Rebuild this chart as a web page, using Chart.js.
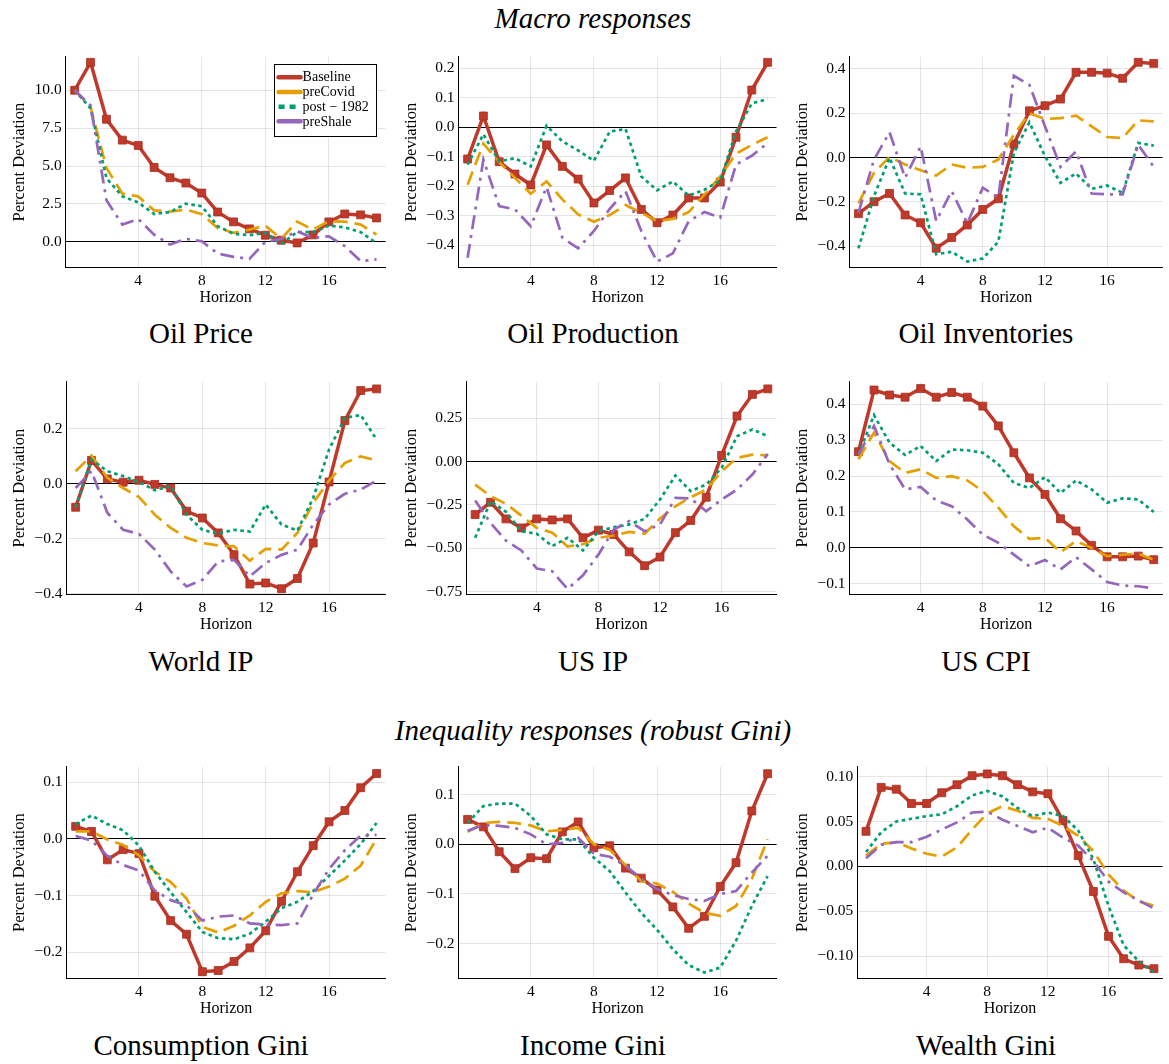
<!DOCTYPE html>
<html>
<head>
<meta charset="utf-8">
<script src="https://cdn.jsdelivr.net/npm/chart.js@4.4.1/dist/chart.umd.min.js"></script>
<style>
  body { margin: 0; background: #fff; width: 1169px; height: 1064px; position: relative; overflow: hidden;
         font-family: "Liberation Serif", serif; color: #000; }
  canvas { position: absolute; }
  .sup { position: absolute; font-style: italic; font-size: 29px; transform: translate(-50%, -50%); white-space: nowrap; }
  .ttl { position: absolute; font-size: 29px; transform: translate(-50%, -50%); white-space: nowrap; }
</style>
</head>
<body>
<div class="sup" style="left:593px;top:18px">Macro responses</div>
<div class="sup" style="left:593px;top:730px">Inequality responses (robust Gini)</div>

<script>
// horizon (x axis)
var horizon = [0, 1, 2, 3, 4, 5, 6, 7, 8, 9, 10, 11, 12, 13, 14, 15, 16, 17, 18, 19];
var xTicks = [4, 8, 12, 16];
var seriesLabels = ["Baseline", "preCovid", "post \u2212 1982", "preShale"];

// Oil Price
var opBase     = [10.0, 11.84, 8.09, 6.71, 6.36, 4.91, 4.23, 3.88, 3.22, 1.97, 1.32, 0.86, 0.44, 0.11, -0.07, 0.46, 1.32, 1.84, 1.78, 1.58];
var opPreCovid = [10.0, 8.9, 4.87, 3.18, 3.0, 2.08, 2.0, 2.13, 1.82, 0.92, 0.59, 0.81, 1.07, 0.2, 1.34, 0.81, 1.36, 1.34, 1.14, 0.48];
var opPost1982 = [10.0, 8.8, 4.2, 3.0, 2.6, 1.84, 1.97, 2.52, 2.35, 1.03, 0.53, 0.44, 0.59, -0.13, 0.64, 0.64, 1.07, 0.96, 0.64, -0.07];
var opPreShale = [10.0, 9.0, 2.74, 1.14, 1.51, 0.48, -0.18, 0.2, 0.04, -0.77, -0.99, -1.12, 0.0, 0.2, 0.7, 0.26, 0.37, -0.28, -1.27, -1.16];

// Oil Production
var prBase     = [-0.108, 0.038, -0.117, -0.159, -0.196, -0.06, -0.133, -0.176, -0.257, -0.215, -0.172, -0.279, -0.324, -0.298, -0.24, -0.24, -0.186, -0.034, 0.126, 0.22];
var prPreCovid = [-0.195, -0.056, -0.118, -0.172, -0.226, -0.184, -0.245, -0.296, -0.321, -0.298, -0.264, -0.29, -0.319, -0.311, -0.288, -0.229, -0.167, -0.09, -0.06, -0.034];
var prPost1982 = [-0.127, -0.024, -0.116, -0.105, -0.133, 0.005, -0.048, -0.079, -0.114, -0.015, -0.006, -0.167, -0.214, -0.184, -0.232, -0.212, -0.181, -0.015, 0.081, 0.095];
var prPreShale = [-0.443, -0.11, -0.268, -0.279, -0.336, -0.203, -0.375, -0.411, -0.352, -0.277, -0.217, -0.352, -0.456, -0.428, -0.319, -0.288, -0.307, -0.127, -0.097, -0.054];

// Oil Inventories
var invBase     = [-0.253, -0.199, -0.162, -0.259, -0.294, -0.409, -0.361, -0.304, -0.234, -0.186, 0.061, 0.211, 0.234, 0.264, 0.385, 0.385, 0.381, 0.358, 0.43, 0.425];
var invPreCovid = [-0.207, -0.069, 0.003, -0.031, -0.057, -0.081, -0.031, -0.046, -0.042, -0.009, 0.103, 0.2, 0.174, 0.178, 0.189, 0.141, 0.093, 0.088, 0.168, 0.163];
var invPost1982 = [-0.41, -0.174, -0.001, -0.162, -0.166, -0.436, -0.425, -0.469, -0.455, -0.38, 0.021, 0.159, 0.006, -0.114, -0.072, -0.141, -0.126, -0.159, 0.066, 0.054];
var invPreShale = [-0.249, -0.009, 0.114, -0.091, 0.051, -0.286, -0.151, -0.297, -0.136, -0.181, 0.369, 0.328, 0.141, -0.042, 0.028, -0.162, -0.166, -0.166, 0.058, -0.042];

// World IP
var wipBase     = [-0.085, 0.085, 0.018, 0.006, 0.013, -0.002, -0.015, -0.099, -0.124, -0.178, -0.257, -0.364, -0.36, -0.381, -0.344, -0.215, 0.007, 0.23, 0.339, 0.345];
var wipPreCovid = [0.046, 0.103, 0.022, -0.015, -0.048, -0.112, -0.16, -0.196, -0.215, -0.224, -0.227, -0.279, -0.236, -0.239, -0.178, -0.069, 0.012, 0.076, 0.1, 0.085];
var wipPost1982 = [-0.085, 0.088, 0.046, 0.028, 0.007, -0.023, -0.008, -0.112, -0.167, -0.181, -0.167, -0.173, -0.075, -0.148, -0.17, -0.051, 0.125, 0.24, 0.25, 0.161];
var wipPreShale = [-0.015, 0.046, -0.105, -0.167, -0.182, -0.239, -0.318, -0.373, -0.349, -0.282, -0.276, -0.336, -0.288, -0.258, -0.239, -0.148, -0.075, -0.036, -0.021, 0.012];

// US IP
var usipBase     = [-0.306, -0.235, -0.331, -0.383, -0.331, -0.337, -0.331, -0.44, -0.396, -0.421, -0.521, -0.601, -0.551, -0.41, -0.34, -0.206, 0.035, 0.262, 0.387, 0.419];
var usipPreCovid = [-0.133, -0.2, -0.244, -0.312, -0.383, -0.41, -0.49, -0.477, -0.44, -0.427, -0.406, -0.417, -0.329, -0.258, -0.206, -0.162, -0.056, 0.021, 0.04, 0.035];
var usipPost1982 = [-0.44, -0.229, -0.29, -0.402, -0.417, -0.488, -0.44, -0.513, -0.402, -0.379, -0.363, -0.331, -0.219, -0.081, -0.171, -0.133, -0.037, 0.146, 0.185, 0.146];
var usipPreShale = [-0.225, -0.354, -0.456, -0.513, -0.617, -0.633, -0.735, -0.656, -0.537, -0.392, -0.344, -0.402, -0.363, -0.21, -0.213, -0.287, -0.219, -0.162, -0.075, 0.044];

// US CPI
var cpiBase     = [0.268, 0.44, 0.426, 0.42, 0.444, 0.42, 0.433, 0.42, 0.395, 0.34, 0.265, 0.195, 0.149, 0.081, 0.047, 0.007, -0.025, -0.025, -0.023, -0.033];
var cpiPreCovid = [0.247, 0.321, 0.242, 0.209, 0.219, 0.195, 0.2, 0.188, 0.158, 0.112, 0.06, 0.025, 0.028, -0.012, 0.019, 0.0, -0.023, -0.019, -0.016, -0.033];
var cpiPost1982 = [0.26, 0.37, 0.293, 0.259, 0.284, 0.242, 0.274, 0.272, 0.265, 0.233, 0.181, 0.167, 0.197, 0.153, 0.188, 0.163, 0.126, 0.138, 0.135, 0.1];
var cpiPreShale = [0.26, 0.34, 0.233, 0.163, 0.17, 0.132, 0.116, 0.079, 0.037, 0.014, -0.019, -0.051, -0.034, -0.06, -0.026, -0.06, -0.095, -0.105, -0.107, -0.113];

// Consumption Gini
var cgBase     = [0.022, 0.013, -0.037, -0.019, -0.026, -0.101, -0.144, -0.168, -0.234, -0.232, -0.216, -0.192, -0.162, -0.11, -0.058, -0.012, 0.03, 0.05, 0.09, 0.115];
var cgPreCovid = [0.013, 0.013, -0.001, -0.011, -0.029, -0.058, -0.076, -0.105, -0.155, -0.165, -0.153, -0.135, -0.111, -0.096, -0.092, -0.094, -0.084, -0.07, -0.047, 0.0];
var cgPost1982 = [0.026, 0.041, 0.026, 0.015, -0.012, -0.058, -0.094, -0.129, -0.164, -0.175, -0.177, -0.167, -0.146, -0.122, -0.111, -0.092, -0.065, -0.038, -0.009, 0.028];
var cgPreShale = [0.005, -0.003, -0.03, -0.046, -0.056, -0.091, -0.108, -0.117, -0.144, -0.137, -0.135, -0.149, -0.151, -0.152, -0.149, -0.098, -0.053, -0.02, 0.006, 0.007];

// Income Gini
var igBase     = [0.05, 0.035, -0.015, -0.049, -0.027, -0.029, 0.025, 0.045, -0.007, -0.003, -0.048, -0.068, -0.092, -0.126, -0.169, -0.145, -0.085, -0.037, 0.067, 0.142];
var igPreCovid = [0.025, 0.043, 0.045, 0.043, 0.038, 0.026, 0.029, 0.033, 0.0, -0.011, -0.042, -0.074, -0.079, -0.096, -0.119, -0.138, -0.144, -0.124, -0.07, 0.01];
var igPost1982 = [0.043, 0.077, 0.082, 0.082, 0.057, 0.02, 0.01, 0.01, -0.027, -0.054, -0.097, -0.138, -0.172, -0.211, -0.243, -0.258, -0.248, -0.194, -0.124, -0.064];
var igPreShale = [0.027, 0.039, 0.037, 0.033, 0.02, 0.0, 0.003, 0.013, -0.019, -0.025, -0.043, -0.07, -0.09, -0.102, -0.11, -0.114, -0.1, -0.094, -0.057, -0.023];

// Wealth Gini
var wgBase     = [0.039, 0.088, 0.086, 0.07, 0.07, 0.082, 0.091, 0.101, 0.103, 0.101, 0.091, 0.083, 0.081, 0.051, 0.012, -0.028, -0.078, -0.103, -0.11, -0.114];
var wgPreCovid = [0.012, 0.025, 0.027, 0.02, 0.014, 0.011, 0.021, 0.041, 0.059, 0.067, 0.062, 0.054, 0.053, 0.045, 0.034, 0.017, -0.009, -0.027, -0.039, -0.044];
var wgPost1982 = [0.016, 0.038, 0.05, 0.053, 0.056, 0.058, 0.067, 0.079, 0.084, 0.078, 0.065, 0.056, 0.06, 0.056, 0.04, 0.008, -0.044, -0.088, -0.106, -0.118];
var wgPreShale = [0.009, 0.024, 0.027, 0.027, 0.033, 0.041, 0.049, 0.06, 0.061, 0.052, 0.045, 0.038, 0.043, 0.032, 0.023, 0.006, -0.017, -0.029, -0.038, -0.047];

// y tick labels per panel
var opTicks   = [0, 2.5, 5, 7.5, 10];
var prTicks   = [-0.4, -0.3, -0.2, -0.1, 0, 0.1, 0.2];
var invTicks  = [-0.4, -0.2, 0, 0.2, 0.4];
var wipTicks  = [-0.4, -0.2, 0, 0.2];
var usipTicks = [-0.75, -0.5, -0.25, 0, 0.25];
var cpiTicks  = [-0.1, 0, 0.1, 0.2, 0.3, 0.4];
var cgTicks   = [-0.2, -0.1, 0, 0.1];
var igTicks   = [-0.2, -0.1, 0, 0.1];
var wgTicks   = [-0.1, -0.05, 0, 0.05, 0.1];

var FONT = '"Liberation Serif", serif';

// line styles of the four series
var seriesStyle = [
    {color: '#c0392b', width: 3.5, dash: [], legendDash: [], points: 5.6, order: 4},
    {color: '#e69f00', width: 2.7, dash: [14, 7], legendDash: [], points: 0, order: 3},
    {color: '#009e73', width: 2.7, dash: [3.5, 3.5], legendDash: [6, 5], points: 0, order: 2},
    {color: '#9467bd', width: 2.7, dash: [14, 6, 3, 6], legendDash: [], points: 0, order: 1}
];

/**
 * Legend drawn inside the plot area (top right)
 */
var insideLegend = {
    id: 'insideLegend',
    afterDraw: function (chart, args, opts) {
        if (!opts.show) return;
        var ctx = chart.ctx, a = chart.chartArea;
        var w = 102, h = 72;
        var x0 = a.right - 10 - w, y0 = a.top + 7;
        ctx.save();
        ctx.fillStyle = '#fff';
        ctx.fillRect(x0, y0, w, h);
        ctx.strokeStyle = '#000';
        ctx.lineWidth = 1;
        ctx.strokeRect(Math.round(x0) + 0.5, Math.round(y0) + 0.5, w, h);
        ctx.font = '14px ' + FONT;
        ctx.textBaseline = 'middle';
        chart.data.datasets.forEach(function (ds, i) {
            var st = seriesStyle[i];
            var y = y0 + 13.5 + i * 14.7;
            ctx.beginPath();
            ctx.setLineDash(st.legendDash);
            ctx.strokeStyle = st.color;
            ctx.lineWidth = 4.5;
            ctx.lineCap = st.legendDash.length ? 'butt' : 'round';
            ctx.moveTo(x0 + 5, y);
            ctx.lineTo(x0 + 27, y);
            ctx.stroke();
            ctx.setLineDash([]);
            ctx.fillStyle = '#000';
            ctx.fillText(ds.label, x0 + 29, y + 0.5);
        });
        ctx.restore();
    }
};

function fmt(v, dec) {
    return v.toFixed(dec).replace('-', '\u2212');
}

var panels = [
    {title: 'Oil Price',        series: [opBase, opPreCovid, opPost1982, opPreShale],         ticks: opTicks,   lim: [-1.69, 12.21],  dec: 1, legend: true},
    {title: 'Oil Production',   series: [prBase, prPreCovid, prPost1982, prPreShale],         ticks: prTicks,   lim: [-0.476, 0.239], dec: 1},
    {title: 'Oil Inventories',  series: [invBase, invPreCovid, invPost1982, invPreShale],     ticks: invTicks,  lim: [-0.496, 0.455], dec: 1},
    {title: 'World IP',         series: [wipBase, wipPreCovid, wipPost1982, wipPreShale],     ticks: wipTicks,  lim: [-0.402, 0.371], dec: 1},
    {title: 'US IP',            series: [usipBase, usipPreCovid, usipPost1982, usipPreShale], ticks: usipTicks, lim: [-0.767, 0.46],  dec: 2},
    {title: 'US CPI',           series: [cpiBase, cpiPreCovid, cpiPost1982, cpiPreShale],     ticks: cpiTicks,  lim: [-0.13, 0.463],  dec: 1},
    {title: 'Consumption Gini', series: [cgBase, cgPreCovid, cgPost1982, cgPreShale],         ticks: cgTicks,   lim: [-0.246, 0.127], dec: 1},
    {title: 'Income Gini',      series: [igBase, igPreCovid, igPost1982, igPreShale],         ticks: igTicks,   lim: [-0.27, 0.156],  dec: 1},
    {title: 'Wealth Gini',      series: [wgBase, wgPreCovid, wgPost1982, wgPreShale],         ticks: wgTicks,   lim: [-0.125, 0.111], dec: 2}
];

// page layout: plot area top/bottom per row, canvas columns
var cols = [{left: 0, width: 392, right: 6, mid: 201}, {left: 392, width: 391, right: 4, mid: 593}, {left: 783, width: 386, right: 1, mid: 986}];
var rows = [{top: 57, bottom: 268, title: 333}, {top: 382, bottom: 595, title: 661}, {top: 767, bottom: 979, title: 1045}];

function makeConfig(p, col) {
    var datasets = p.series.map(function (vals, i) {
        var st = seriesStyle[i];
        return {
            label: seriesLabels[i],
            data: horizon.map(function (h, j) { return {x: h, y: vals[j]}; }),
            borderColor: st.color,
            backgroundColor: st.color,
            borderWidth: st.width,
            borderDash: st.dash,
            pointStyle: 'rect',
            pointRadius: st.points,
            pointBorderColor: '#a3301f',
            pointBorderWidth: 0.8,
            tension: 0,
            fill: false,
            order: st.order
        };
    });
    return {
        type: 'line',
        data: {datasets: datasets},
        plugins: [insideLegend],
        options: {
            responsive: false,
            animation: false,
            layout: {padding: {left: 4, right: col.right, top: 0, bottom: 0}},
            plugins: {
                legend: {display: false},
                tooltip: {enabled: false},
                insideLegend: {show: !!p.legend}
            },
            scales: {
                x: {
                    type: 'linear',
                    min: -0.57,
                    max: 19.57,
                    afterBuildTicks: function (s) { s.ticks = xTicks.map(function (v) { return {value: v}; }); },
                    grid: {color: 'rgba(0,0,0,0.1)', drawTicks: false},
                    border: {color: '#000', width: 1},
                    ticks: {padding: 5.5, color: '#000', maxRotation: 0, font: {family: FONT, size: 15.5, lineHeight: 1}},
                    title: {display: true, text: 'Horizon', color: '#000', font: {family: FONT, size: 16, lineHeight: 1}, padding: {top: -4, bottom: 0}}
                },
                y: {
                    min: p.lim[0],
                    max: p.lim[1],
                    afterBuildTicks: function (s) { s.ticks = p.ticks.map(function (v) { return {value: v}; }); },
                    grid: {
                        color: function (c) { return c.tick && c.tick.value === 0 ? '#000' : 'rgba(0,0,0,0.1)'; },
                        drawTicks: false
                    },
                    border: {color: '#000', width: 1},
                    ticks: {
                        padding: 4, color: '#000', font: {family: FONT, size: 15.5, lineHeight: 1},
                        callback: function (v) { return fmt(v, p.dec); }
                    },
                    title: {display: true, text: 'Percent Deviation', color: '#000', font: {family: FONT, size: 16.5, lineHeight: 1}, padding: {top: 7, bottom: 3}}
                }
            }
        }
    };
}

panels.forEach(function (p, k) {
    var col = cols[k % 3], row = rows[Math.floor(k / 3)];
    var cv = document.createElement('canvas');
    cv.width = col.width;
    cv.height = 300;
    cv.style.left = col.left + 'px';
    document.body.appendChild(cv);

    // first pass: measure how much room the axes take, then size the canvas
    var probe = new Chart(cv.getContext('2d'), makeConfig(p, col));
    var a = probe.chartArea;
    var topOff = a.top, botOff = cv.height - a.bottom;
    probe.destroy();
    cv.width = col.width;
    cv.height = Math.round(row.bottom - row.top + topOff + botOff);
    cv.style.width = col.width + 'px';
    cv.style.height = cv.height + 'px';
    cv.style.top = Math.round(row.top - topOff) + 'px';
    new Chart(cv.getContext('2d'), makeConfig(p, col));

    var t = document.createElement('div');
    t.className = 'ttl';
    t.style.left = col.mid + 'px';
    t.style.top = row.title + 'px';
    t.textContent = p.title;
    document.body.appendChild(t);
});
</script>
</body>
</html>
